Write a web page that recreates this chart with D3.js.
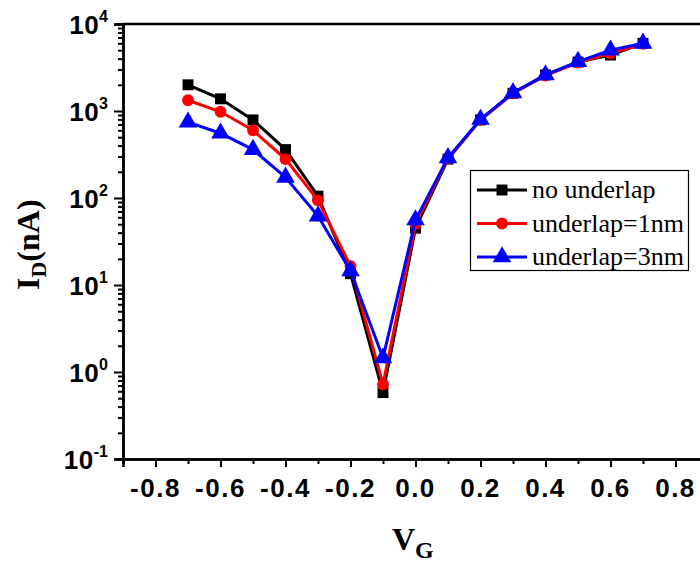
<!DOCTYPE html>
<html lang="en">
<head>
  <meta charset="UTF-8">
  <script src="https://d3js.org/d3.v7.min.js"></script>
  <style>
    body { margin: 0; background: #fff; }
    .tick-label { font-family: "Liberation Sans", Arial, sans-serif; font-weight: bold; font-size: 26px; }
    .axis-title { font-family: "Liberation Serif", "Times New Roman", serif; font-weight: bold; }
  </style>
  <title>ID vs VG</title>
</head>
<body>
  <svg id="chart" width="700" height="564"></svg>
  <script>
    // data
    var vg = [-0.7, -0.6, -0.5, -0.4, -0.3, -0.2, -0.1, 0.0, 0.1, 0.2, 0.3, 0.4, 0.5, 0.6, 0.7];
    var noUnderlap = [2000, 1380, 790, 360, 105, 13.5, 0.58, 45, 280, 790, 1600, 2600, 3650, 4400, 6000];
    var underlap1 = [1330, 980, 600, 280, 94, 16.5, 0.72, 50, 285, 790, 1600, 2550, 3600, 4600, 5900];
    var underlap3 = [745, 555, 360, 173, 62, 14.5, 1.45, 56, 290, 800, 1620, 2600, 3700, 5000, 6000];

    var seriesNames = ["no underlap", "underlap=1nm", "underlap=3nm"];
    var seriesColors = ["#000000", "#ff0000", "#0000ff"];
    var seriesSymbols = [d3.symbolSquare, d3.symbolCircle, d3.symbolTriangle];

    var xTicks = [-0.8, -0.6, -0.4, -0.2, 0.0, 0.2, 0.4, 0.6, 0.8];
    var yExponents = [-1, 0, 1, 2, 3, 4];

    var svg = d3.select("#chart");

    var x = d3.scaleLinear().domain([-0.9, 0.9]).range([123, 708]);
    var y = d3.scaleLog().domain([0.1, 10000]).range([459, 24]);

    // minor ticks
    var xMinor = d3.range(-9, 10).map(function (d) { return d / 10; });
    var yMinor = [];
    for (var e = -1; e < 4; e++) {
      for (var m = 2; m < 10; m++) yMinor.push(m * Math.pow(10, e));
    }

    var g = svg.append("g");

    // top frame line
    g.append("line")
      .attr("x1", x(-0.9)).attr("x2", x(0.9))
      .attr("y1", y(10000)).attr("y2", y(10000))
      .attr("stroke", "#000").attr("stroke-width", 2.5);

    // x axis
    var xAxisMinor = d3.axisBottom(x).tickValues(xMinor).tickSize(5).tickFormat("");
    var xAxisMajor = d3.axisBottom(x).tickValues(xTicks).tickSize(8).tickFormat("");
    [xAxisMinor, xAxisMajor].forEach(function (ax) {
      g.append("g")
        .attr("transform", "translate(0," + y(0.1) + ")")
        .call(ax)
        .call(function (s) {
          s.selectAll("line").attr("stroke-width", 2);
          s.select(".domain").attr("stroke-width", 2.5);
        });
    });

    g.selectAll("text.xlab")
      .data(xTicks)
      .enter().append("text")
      .attr("class", "tick-label")
      .attr("x", function (d) { return x(d); })
      .attr("y", 497)
      .attr("text-anchor", "middle")
      .attr("letter-spacing", 1.5)
      .text(function (d) { return d3.format(".1f")(d).replace("−", "-"); });

    // y axis
    var yAxisMinor = d3.axisLeft(y).tickValues(yMinor).tickSize(5).tickFormat("");
    var yAxisMajor = d3.axisLeft(y).tickValues(yExponents.map(function (e) { return Math.pow(10, e); })).tickSize(9).tickFormat("");
    [yAxisMinor, yAxisMajor].forEach(function (ax) {
      g.append("g")
        .attr("transform", "translate(" + x(-0.9) + ",0)")
        .call(ax)
        .call(function (s) {
          s.selectAll("line").attr("stroke-width", 2);
          s.select(".domain").attr("stroke-width", 2.5);
        });
    });

    var ylab = g.selectAll("text.ylab")
      .data(yExponents)
      .enter().append("text")
      .attr("class", "tick-label")
      .attr("x", 108)
      .attr("y", function (d) { return y(Math.pow(10, d)) + 10; })
      .attr("text-anchor", "end");
    ylab.append("tspan").attr("letter-spacing", 0.5).text("10");
    ylab.append("tspan")
      .attr("dy", -12)
      .attr("font-size", 16)
      .text(function (d) { return d; });

    // axis titles
    var xt = svg.append("text")
      .attr("class", "axis-title")
      .attr("x", 392)
      .attr("y", 550)
      .attr("font-size", 32);
    xt.append("tspan").text("V");
    xt.append("tspan").attr("font-size", 24).attr("dy", 8).text("G");

    var yt = svg.append("text")
      .attr("class", "axis-title")
      .attr("transform", "translate(39,290) rotate(-90)")
      .attr("font-size", 32);
    yt.append("tspan").text("I");
    yt.append("tspan").attr("font-size", 22).attr("dy", 7).text("D");
    yt.append("tspan").attr("dy", -7).text("(nA)");

    // series
    var line = d3.line()
      .x(function (d) { return x(d[0]); })
      .y(function (d) { return y(d[1]); });

    var symbolSizes = [120, 110, 150];

    [noUnderlap, underlap1, underlap3].forEach(function (vals, i) {
      var pts = vg.map(function (v, j) { return [v, vals[j]]; });
      svg.append("path")
        .datum(pts)
        .attr("d", line)
        .attr("fill", "none")
        .attr("stroke", seriesColors[i])
        .attr("stroke-width", 3);
      svg.selectAll("path.m" + i)
        .data(pts)
        .enter().append("path")
        .attr("class", "m" + i)
        .attr("transform", function (d) { return "translate(" + x(d[0]) + "," + y(d[1]) + ")"; })
        .attr("d", d3.symbol().type(seriesSymbols[i]).size(symbolSizes[i]))
        .attr("fill", seriesColors[i]);
    });

    // legend
    var legend = svg.append("g");
    legend.append("rect")
      .attr("x", 470.5).attr("y", 170.5)
      .attr("width", 218).attr("height", 100)
      .attr("fill", "#fff")
      .attr("stroke", "#000").attr("stroke-width", 1.2);

    var items = legend.selectAll("g.item")
      .data(seriesNames)
      .enter().append("g")
      .attr("class", "item")
      .attr("transform", function (d, i) { return "translate(0," + (190 + i * 33.5) + ")"; });

    items.append("line")
      .attr("x1", 477).attr("x2", 527)
      .attr("y1", 0).attr("y2", 0)
      .attr("stroke", function (d, i) { return seriesColors[i]; })
      .attr("stroke-width", 3);
    items.append("path")
      .attr("transform", "translate(502,0)")
      .attr("d", function (d, i) { return d3.symbol().type(seriesSymbols[i]).size(symbolSizes[i])(); })
      .attr("fill", function (d, i) { return seriesColors[i]; });
    items.append("text")
      .attr("x", 532)
      .attr("y", 8)
      .style("font-family", "'Liberation Serif', 'Times New Roman', serif")
      .style("font-size", "26px")
      .text(function (d) { return d; });
  </script>
</body>
</html>
